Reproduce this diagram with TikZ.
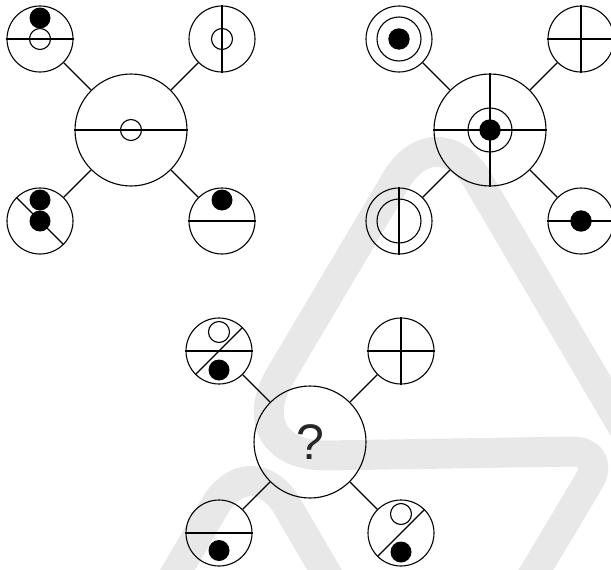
\documentclass[tikz,border=0pt]{standalone}
\usepackage{fontspec}
\setsansfont{Liberation Sans}
\usetikzlibrary{positioning}
\tikzset{
  roundel/.style={circle, draw=black, line width=1.1pt, inner sep=0pt},
  hub/.style={roundel, minimum size=112pt},
  sat/.style={roundel, minimum size=66pt},
  link/.style={line width=1.1pt, draw=black},
  divline/.style={line width=1.1pt, draw=black},
  holedot/.style={line width=1.1pt, draw=black},
  soliddot/.style={fill=black},
  watermark/.style={draw=black!9, line width=30pt, line join=round},
}

\begin{document}
\begin{tikzpicture}[x=1pt, y=-1pt, node distance=91pt and 91pt, on grid]
  \useasboundingbox (0,0) rectangle (611,570);

  % faint mark in the background
  \begin{scope}
    \clip (0,0) rectangle (611,570);
    \draw[watermark] (518,600) [rounded corners=35pt] -- (607,451)
      [rounded corners=95pt] -- (232,457)
      [rounded corners=81pt] -- (437,111) -- (660,490);
    \draw[watermark, rounded corners=73pt] (160,600) -- (251,444) -- (342,600);
  \end{scope}

  % --- first figure ---
  \node[hub] (hubA) at (131,130) {};
  \node[sat, above left=of hubA] (satAnw) {};
  \node[sat, above right=of hubA] (satAne) {};
  \node[sat, below left=of hubA] (satAsw) {};
  \node[sat, below right=of hubA] (satAse) {};
  \foreach \s in {nw,ne,sw,se}
    \draw[link] (hubA) -- (satA\s);

  \draw[divline] (hubA.west) -- (hubA.east);
  \draw[holedot] (hubA.center) circle[radius=10.5pt];

  \draw[divline] (satAnw.west) -- (satAnw.east);
  \draw[holedot] (satAnw.center) circle[radius=10.5pt];
  \fill[soliddot] ([yshift=21pt]satAnw.center) circle[radius=10.5pt];

  \draw[divline] (satAne.north) -- (satAne.south);
  \draw[holedot] (satAne.center) circle[radius=10.5pt];

  \fill[soliddot] (satAsw.center) circle[radius=10.5pt];
  \fill[soliddot] ([yshift=21pt]satAsw.center) circle[radius=10.5pt];
  \draw[divline] (satAsw.north west) -- (satAsw.south east);

  \draw[divline] (satAse.west) -- (satAse.east);
  \fill[soliddot] ([yshift=21pt]satAse.center) circle[radius=10.5pt];

  % --- second figure ---
  \node[hub] (hubB) at (490,130) {};
  \node[sat, above left=of hubB] (satBnw) {};
  \node[sat, above right=of hubB] (satBne) {};
  \node[sat, below left=of hubB] (satBsw) {};
  \node[sat, below right=of hubB] (satBse) {};
  \foreach \s in {nw,ne,sw,se}
    \draw[link] (hubB) -- (satB\s);

  \draw[divline] (hubB.west) -- (hubB.east);
  \draw[divline] (hubB.north) -- (hubB.south);
  \draw[holedot] (hubB.center) circle[radius=22pt];
  \fill[soliddot] (hubB.center) circle[radius=10.7pt];

  \draw[holedot] (satBnw.center) circle[radius=22pt];
  \fill[soliddot] (satBnw.center) circle[radius=10.7pt];

  \draw[divline] (satBne.west) -- (satBne.east);
  \draw[divline] (satBne.north) -- (satBne.south);

  \draw[holedot] (satBsw.center) circle[radius=22pt];
  \draw[divline] (satBsw.north) -- (satBsw.south);

  \draw[divline] (satBse.west) -- (satBse.east);
  \fill[soliddot] (satBse.center) circle[radius=10.7pt];

  % --- third figure ---
  \node[hub, font=\sffamily\fontsize{50pt}{50pt}\selectfont, text=black!85] (hubC) at (310,442) {?};
  \node[sat, above left=of hubC] (satCnw) {};
  \node[sat, above right=of hubC] (satCne) {};
  \node[sat, below left=of hubC] (satCsw) {};
  \node[sat, below right=of hubC] (satCse) {};
  \foreach \s in {nw,ne,sw,se}
    \draw[link] (hubC) -- (satC\s);

  \draw[divline] (satCnw.west) -- (satCnw.east);
  \draw[divline] (satCnw.south west) -- (satCnw.north east);
  \draw[holedot] ([yshift=19pt]satCnw.center) circle[radius=10.5pt];
  \fill[soliddot] ([yshift=-19pt]satCnw.center) circle[radius=10.5pt];

  \draw[divline] (satCne.west) -- (satCne.east);
  \draw[divline] (satCne.north) -- (satCne.south);

  \draw[divline] (satCsw.west) -- (satCsw.east);
  \fill[soliddot] ([yshift=-17.5pt]satCsw.center) circle[radius=10.5pt];

  \draw[divline] (satCse.south west) -- (satCse.north east);
  \draw[holedot] ([yshift=19pt]satCse.center) circle[radius=10.5pt];
  \fill[soliddot] ([yshift=-19pt]satCse.center) circle[radius=10.5pt];
\end{tikzpicture}
\end{document}
